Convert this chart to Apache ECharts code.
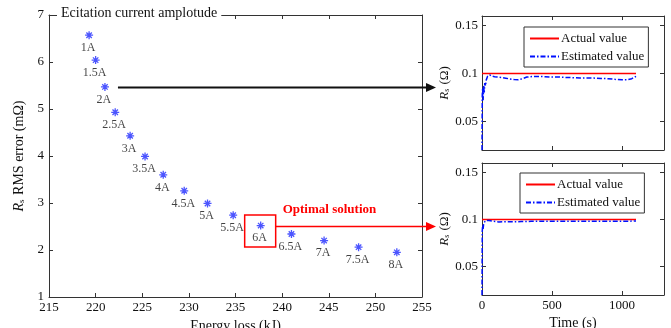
<!DOCTYPE html>
<html><head><meta charset="utf-8">
<script src="https://cdn.jsdelivr.net/npm/echarts@6/dist/echarts.min.js"></script>
<style>html,body{margin:0;padding:0;background:#fff}#c{width:671px;height:328px}</style>
</head><body><div id="c"></div>
<script>
// Left plot data: energy loss (kJ) vs Rs RMS error (mΩ)
const currentLabels = ['1A','1.5A','2A','2.5A','3A','3.5A','4A','4.5A','5A','5.5A','6A','6.5A','7A','7.5A','8A'];
const energyLoss = [219.3,220.0,221.0,222.1,223.7,225.3,227.25,229.5,232.0,234.75,237.7,241.0,244.5,248.2,252.3];
const rmsError   = [6.57,6.04,5.47,4.93,4.43,3.99,3.60,3.26,2.99,2.74,2.52,2.34,2.20,2.06,1.95];
const xTicksLeft = [215,220,225,230,235,240,245,250,255];
const yTicksLeft = [1,2,3,4,5,6,7];

// Right plots: time (s) vs Rs (Ω)
const actualTime = [0,1100];
const actualVal  = [0.1,0.1];
const timeTop = [0,2,5,8,12,16,20,25,30,40,55,70,90,110,140,170,200,230,260,290,320,360,400,450,500,550,600,650,700,750,800,850,900,950,1000,1040,1070,1100];
const estTop  = [0.020,0.078,0.085,0.072,0.088,0.080,0.090,0.087,0.093,0.097,0.0985,0.0972,0.0965,0.0962,0.0958,0.0950,0.0942,0.0936,0.0935,0.0945,0.0962,0.0968,0.0969,0.0966,0.0962,0.0962,0.0958,0.0956,0.0952,0.0953,0.0951,0.0947,0.0945,0.0938,0.0934,0.0934,0.0945,0.0970];
const timeBot = [0,2,5,8,12,18,25,35,50,80,120,160,220,280,350,450,550,650,750,850,950,1050,1100];
const estBot  = [0.020,0.088,0.094,0.090,0.096,0.094,0.099,0.0985,0.0990,0.0982,0.0975,0.0978,0.0976,0.0979,0.0981,0.0982,0.0982,0.0981,0.0982,0.0981,0.0981,0.0982,0.0986];
const yTicksRight = [0.05,0.1,0.15];
const xTicksRight = [0,500,1000];

const FONT = 'Liberation Serif';
const AX = '#333';
const chart = echarts.init(document.getElementById('c'), null, {renderer:'canvas'});

const zip = (a,b)=>a.map((v,i)=>[v,b[i]]);
const starPath = 'path://M0,5L10,5M5,0L5,10M1.6,1.6L8.4,8.4M1.6,8.4L8.4,1.6';

function ax(grid, pos, opts){
  return Object.assign({
    type:'value', gridIndex:grid, position:pos,
    axisLine:{show:true, onZero:false, lineStyle:{color:AX,width:1}},
    axisTick:{show:true, inside:true, length:4, lineStyle:{color:AX}},
    axisLabel:{show:false},
    splitLine:{show:false}
  }, opts);
}
const tickR = list => ({show:true, inside:true, length:4, lineStyle:{color:AX}, customValues:list});
const labelStyle = {color:'#111', fontFamily:FONT, fontSize:13};
const richName = (fs)=>({
  i:{fontFamily:FONT,fontSize:fs,fontStyle:'italic',color:'#111'},
  s:{fontFamily:FONT,fontSize:fs-5,color:'#111',verticalAlign:'bottom',padding:[6,1,0,0]}
});

const legendCommon = {
  orient:'vertical', itemWidth:29, itemHeight:8, itemGap:5,
  padding:[5,4,4,5], borderColor:'#333', borderWidth:1, backgroundColor:'#fff',
  itemStyle:{opacity:0},
  textStyle:{fontFamily:FONT, fontSize:13, color:'#111', padding:[0,0,0,-3]},
  data:['Actual value','Estimated value']
};

const option = {
  animation:false,
  backgroundColor:'#fff',
  title:{
    text:'Ecitation current amplotude', left:57, top:6,
    backgroundColor:'#fff', padding:[0,4,0,4],
    textStyle:{fontFamily:FONT, fontSize:14, fontWeight:'normal', color:'#111'}
  },
  grid:[
    {left:49, top:15, width:373, height:282, outerBoundsMode:'none', containLabel:false},
    {left:482, top:16, width:182, height:134, outerBoundsMode:'none', containLabel:false},
    {left:482, top:163, width:182, height:132, outerBoundsMode:'none', containLabel:false}
  ],
  xAxis:[
    ax(0,'bottom',{min:215,max:255,interval:5,
      axisLabel:Object.assign({show:true, margin:4, customValues:xTicksLeft}, labelStyle),
      axisTick:tickR(xTicksLeft),
      name:'Energy loss (kJ)', nameLocation:'middle', nameGap:19,
      nameTextStyle:{fontFamily:FONT, fontSize:14, color:'#111'}}),
    ax(0,'top',{min:215,max:255,interval:5, axisTick:tickR(xTicksLeft)}),
    ax(1,'bottom',{min:0,max:1300, axisTick:tickR(xTicksRight)}),
    ax(1,'top',{min:0,max:1300, axisTick:tickR(xTicksRight)}),
    ax(2,'bottom',{min:0,max:1300, axisTick:tickR(xTicksRight),
      axisLabel:Object.assign({show:true, margin:4, customValues:xTicksRight, formatter:v=>String(v)}, labelStyle),
      name:'Time (s)', nameLocation:'middle', nameGap:21,
      nameTextStyle:{fontFamily:FONT, fontSize:14, color:'#111'}}),
    ax(2,'top',{min:0,max:1300, axisTick:tickR(xTicksRight)})
  ],
  yAxis:[
    ax(0,'left',{min:1,max:7,interval:1, axisTick:tickR(yTicksLeft),
      axisLabel:Object.assign({show:true, margin:5, customValues:yTicksLeft}, labelStyle),
      name:'{i|R}{s|s} RMS error (m\u03A9)', nameLocation:'middle', nameGap:19,
      nameTextStyle:{fontFamily:FONT, fontSize:14, color:'#111', rich:richName(14)}}),
    ax(0,'right',{min:1,max:7,interval:1, axisTick:tickR(yTicksLeft)}),
    ax(1,'left',{min:0.02,max:0.16, axisTick:tickR(yTicksRight),
      axisLabel:Object.assign({show:true, margin:4, customValues:yTicksRight, formatter:v=>String(+v.toFixed(2))}, labelStyle),
      name:'{i|R}{s|s} (\u03A9)', nameLocation:'middle', nameGap:28,
      nameTextStyle:{fontFamily:FONT, fontSize:13, color:'#111', rich:richName(13)}}),
    ax(1,'right',{min:0.02,max:0.16, axisTick:tickR(yTicksRight)}),
    ax(2,'left',{min:0.02,max:0.16, axisTick:tickR(yTicksRight),
      axisLabel:Object.assign({show:true, margin:4, customValues:yTicksRight, formatter:v=>String(+v.toFixed(2))}, labelStyle),
      name:'{i|R}{s|s} (\u03A9)', nameLocation:'middle', nameGap:28,
      nameTextStyle:{fontFamily:FONT, fontSize:13, color:'#111', rich:richName(13)}}),
    ax(2,'right',{min:0.02,max:0.16, axisTick:tickR(yTicksRight)})
  ],
  legend:[
    Object.assign({left:524, top:27}, legendCommon),
    Object.assign({left:520, top:173}, legendCommon)
  ],
  series:[
    {type:'scatter', xAxisIndex:0, yAxisIndex:0, symbol:starPath, symbolSize:8,
     itemStyle:{color:'rgba(0,0,0,0)', borderColor:'#1f2bff', borderWidth:1.3},
     data: energyLoss.map((x,i)=>({value:[x,rmsError[i]], name:currentLabels[i]})),
     label:{show:true, position:'bottom', distance:2, offset:[-1,0], formatter:p=>p.name,
       fontFamily:FONT, fontSize:12, color:'#111'}},
    {type:'line', name:'Actual value', xAxisIndex:2, yAxisIndex:2, symbol:'none',
     data:zip(actualTime,actualVal), lineStyle:{color:'#ff0000', width:1.5}, itemStyle:{color:'#ff0000'}},
    {type:'line', name:'Estimated value', xAxisIndex:2, yAxisIndex:2, symbol:'none',
     data:zip(timeTop,estTop), lineStyle:{color:'#0010ff', width:1.5, type:[5,2,1.5,2]}, itemStyle:{color:'#0010ff'}},
    {type:'line', name:'Actual value', xAxisIndex:4, yAxisIndex:4, symbol:'none',
     data:zip(actualTime,actualVal), lineStyle:{color:'#ff0000', width:1.5}, itemStyle:{color:'#ff0000'}},
    {type:'line', name:'Estimated value', xAxisIndex:4, yAxisIndex:4, symbol:'none',
     data:zip(timeBot,estBot), lineStyle:{color:'#0010ff', width:1.5, type:[5,2,1.5,2]}, itemStyle:{color:'#0010ff'}}
  ]
};
chart.setOption(option);

// Annotations positioned from the data points via the chart's own scales
const p2A = chart.convertToPixel({gridIndex:0}, [energyLoss[2], rmsError[2]]);
const p6A = chart.convertToPixel({gridIndex:0}, [energyLoss[10], rmsError[10]]);
const rightLeft = chart.convertToPixel({gridIndex:1}, [0, 0.1])[0];
const tipX = rightLeft - 46;
function arrow(x0, y, x1, color, w){
  return [
    {type:'line', shape:{x1:x0, y1:y, x2:x1-8, y2:y}, style:{stroke:color, lineWidth:w}, z:50},
    {type:'polygon', shape:{points:[[x1,y],[x1-10,y-4.5],[x1-10,y+4.5]]}, style:{fill:color}, z:50}
  ];
}
const g = [];
g.push(...arrow(p2A[0]+13, Math.round(p2A[1])+0.5, tipX, '#111', 2));
g.push({type:'rect', shape:{x:p6A[0]-16, y:p6A[1]-10.5, width:31, height:32},
  style:{fill:'none', stroke:'#ff0000', lineWidth:1.5}, z:50});
g.push(...arrow(p6A[0]+15, Math.round(p6A[1])+0.5, tipX, '#ff0000', 1.5));
g.push({type:'text', left:p6A[0]+22, top:p6A[1]-22,
  style:{text:'Optimal solution', fill:'#ff0000', font:'bold 13px "Liberation Serif"'}, z:50});
chart.setOption({graphic:g});
</script></body></html>
